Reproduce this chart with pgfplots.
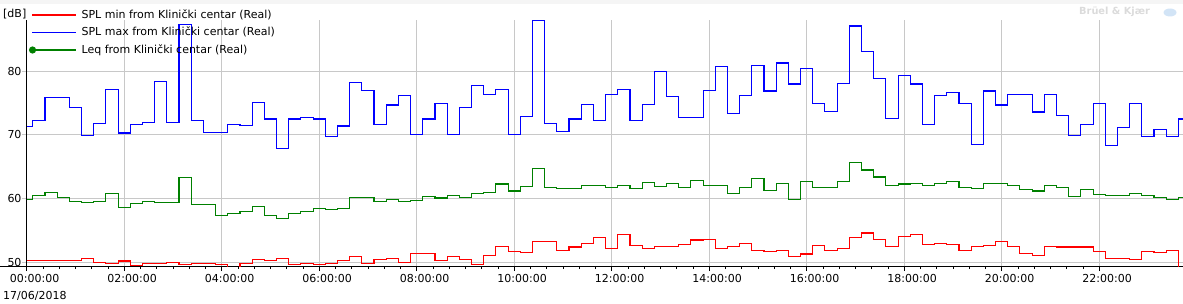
\documentclass[border=0pt]{standalone}
\usepackage{fontspec}
\setmainfont{DejaVu Sans}
\usepackage{pgfplots}
\pgfplotsset{compat=1.18}
\usepackage{pgfplotstable}
\definecolor{spred}{RGB}{255,0,0}
\definecolor{spblue}{RGB}{0,0,255}
\definecolor{spgreen}{RGB}{0,128,0}
\definecolor{gridgray}{RGB}{200,200,200}
\definecolor{logoblue}{RGB}{210,228,246}

\pgfplotstableread{
t max leq min
0.00 71.3 59.9 50.3
0.25 72.3 60.5 50.3
0.50 75.9 60.9 50.3
0.75 75.9 60.2 50.3
1.00 74.3 59.6 50.3
1.25 69.9 59.4 50.6
1.50 71.8 59.6 50.0
1.75 77.2 60.8 49.8
2.00 70.3 58.6 50.2
2.25 71.7 59.3 49.5
2.50 72.0 59.6 49.8
2.75 78.4 59.4 49.8
3.00 72.0 59.4 50.0
3.25 87.4 63.3 49.7
3.50 72.3 59.1 49.8
3.75 70.4 59.1 49.8
4.00 70.4 57.4 49.7
4.25 71.7 57.7 49.0
4.50 71.5 58.0 49.8
4.75 75.1 58.7 50.5
5.00 72.5 57.4 50.3
5.25 67.9 56.9 50.6
5.50 72.5 57.7 49.7
5.75 72.8 58.0 49.8
6.00 72.5 58.5 49.7
6.25 69.8 58.3 49.8
6.50 71.4 58.5 50.3
6.75 78.3 60.2 50.9
7.00 77.0 60.2 49.8
7.25 71.7 59.6 50.5
7.50 74.7 59.9 50.6
7.75 76.2 59.6 50.0
8.00 70.1 59.7 51.4
8.25 72.5 60.4 51.4
8.50 75.0 60.1 50.3
8.75 70.1 60.5 50.9
9.00 74.3 60.2 50.5
9.25 77.8 60.8 49.7
9.50 76.4 61.0 51.1
9.75 77.2 62.3 52.5
10.00 70.1 61.2 51.7
10.25 72.9 61.9 51.6
10.50 88.0 64.8 53.3
10.75 71.8 61.8 53.3
11.00 70.6 61.6 51.9
11.25 72.5 61.6 52.4
11.50 74.8 62.1 53.0
11.75 72.3 62.1 53.9
12.00 76.4 61.8 52.2
12.25 77.2 62.1 54.4
12.50 72.3 61.6 52.7
12.75 74.8 62.6 52.2
13.00 79.9 61.9 52.5
13.25 76.1 62.4 52.5
13.50 72.8 61.8 52.8
13.75 72.8 62.9 53.5
14.00 77.0 62.1 53.6
14.25 80.8 62.1 52.2
14.50 73.4 60.8 52.5
14.75 76.2 61.8 53.0
15.00 80.9 63.2 51.9
15.25 76.9 61.3 51.7
15.50 81.3 62.4 51.9
15.75 78.0 59.9 50.9
16.00 80.5 62.7 51.3
16.25 75.0 61.8 52.7
16.50 73.7 61.8 51.9
16.75 78.1 62.7 52.2
17.00 87.1 65.7 53.9
17.25 83.1 64.5 54.6
17.50 78.9 63.4 53.6
17.75 72.6 62.1 52.5
18.00 79.4 62.3 54.1
18.25 78.0 62.4 54.4
18.50 71.7 62.1 52.8
18.75 76.2 62.4 53.0
19.00 76.7 62.7 52.8
19.25 75.0 61.8 51.9
19.50 68.5 61.6 52.5
19.75 76.9 62.4 52.7
20.00 74.7 62.4 53.3
20.25 76.4 62.1 52.5
20.50 76.4 61.5 51.4
20.75 73.6 61.2 51.1
21.00 76.4 62.1 52.5
21.25 73.1 61.8 52.4
21.50 69.9 60.4 52.4
21.75 71.7 61.5 52.4
22.00 75.0 60.7 51.7
22.25 68.4 60.5 50.6
22.50 71.2 60.5 50.6
22.75 75.0 60.8 50.5
23.00 69.8 60.5 51.7
23.25 70.9 60.2 51.6
23.50 69.8 59.9 51.9
23.75 72.5 60.2 49.0
}\data

\begin{document}
\begin{tikzpicture}
\fill[gray!8] (-26.7pt,262pt) rectangle (1156.3pt,266pt);
\begin{axis}[
  scale only axis, width=1156.3pt, height=246pt,
  xmin=0, xmax=23.72, ymin=49.42, ymax=88.05,
  axis x line*=bottom, axis y line*=left,
  axis line style={black, line width=0.9pt, -},
  xtick={0,2,...,22},
  xticklabels={00:00:00,02:00:00,04:00:00,06:00:00,08:00:00,10:00:00,12:00:00,14:00:00,16:00:00,18:00:00,20:00:00,22:00:00},
  minor x tick num=5,
  ytick={50,60,70,80}, yticklabels={50,60,70,80},
  grid=major, major grid style={gridgray, line width=0.9pt},
  tick align=outside, major tick length=5pt, minor tick length=3pt,
  xtick style={black, line width=0.8pt},
  ytick style={gridgray, line width=0.9pt},
  tick label style={font=\fontsize{11}{13}\selectfont},
  xticklabel style={xshift=8pt},
  yticklabel style={inner sep=0pt},
  legend style={at={(axis description cs:0,1)}, anchor=north west,
    xshift=2.3pt, yshift=11pt, draw=none, fill=none,
    font=\fontsize{11}{13}\selectfont, inner sep=0pt, outer sep=0pt,
    row sep=5.5pt, nodes={inner sep=0pt, text height=9pt, text depth=3pt},
    /tikz/every odd column/.append style={column sep=5pt}},
  legend cell align=left,
]
\addplot[spred, line width=1.1pt, const plot mark mid,
  legend image code/.code={\draw[spred, line width=1.1pt] (0pt,0pt) -- (44pt,0pt);}]
  table[x=t, y=min]{\data};
\addplot[spblue, line width=1.1pt, const plot mark mid,
  legend image code/.code={\draw[spblue, line width=1.1pt] (0pt,0pt) -- (44pt,0pt);}]
  table[x=t, y=max]{\data};
\addplot[spgreen, line width=1.1pt, const plot mark mid,
  legend image code/.code={\draw[spgreen, line width=1.1pt] (0pt,0pt) -- (44pt,0pt); \fill[spgreen] (0.5pt,0pt) circle (3pt);}]
  table[x=t, y=leq]{\data};
\legend{SPL min from Klinički centar (Real), SPL max from Klinički centar (Real), Leq from Klinički centar (Real)}
\end{axis}
\draw[black, line width=0.9pt] (-26.7pt,0pt) -- (0pt,0pt);
\node[anchor=west, inner sep=0pt, font=\fontsize{11}{13}\selectfont] at (-23.7pt,252pt) {[dB]};
\node[anchor=west, inner sep=0pt, font=\fontsize{11}{13}\selectfont] at (-23.7pt,-30pt) {17/06/2018};
\node[anchor=west, inner sep=0pt, text=gray!28, font=\fontsize{9.8}{12}\selectfont\bfseries] at (1052.3pt,254pt) {Brüel \& Kjær};
\fill[logoblue] (1143.3pt,253.5pt) ellipse (6.5pt and 4pt);
\pgfresetboundingbox
\path[use as bounding box] (-26.7pt,-37pt) rectangle (1156.3pt,266pt);
\end{tikzpicture}
\end{document}
